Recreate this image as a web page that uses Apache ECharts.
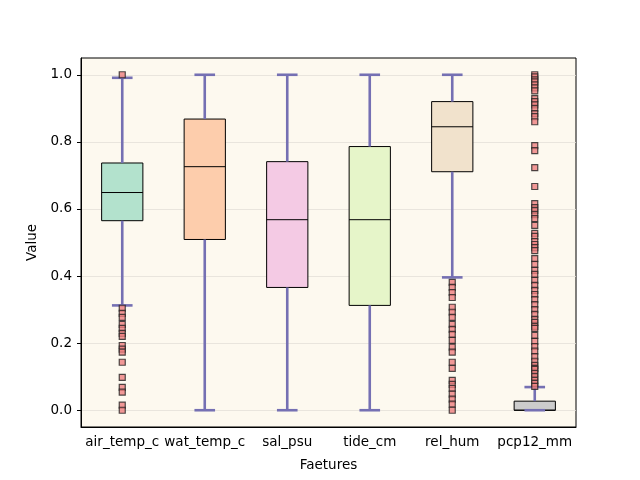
<!DOCTYPE html>
<html>
<head>
<meta charset="utf-8">
<script src="https://cdn.jsdelivr.net/npm/echarts@6/dist/echarts.min.js"></script>
<style>
  html, body { margin: 0; padding: 0; background: #fff; }
  #chart { width: 640px; height: 480px; }
</style>
</head>
<body>
<div id="chart"></div>
<script>
// box stats (normalised 0..1)
const categories = ['air_temp_c', 'wat_temp_c', 'sal_psu', 'tide_cm', 'rel_hum', 'pcp12_mm'];
const whiskerLow = [0.3125, 0, 0, 0, 0.396, 0];
const q1 = [0.565, 0.509, 0.366, 0.3125, 0.711, 0];
const median = [0.649, 0.726, 0.568, 0.568, 0.845, 0];
const q3 = [0.737, 0.868, 0.741, 0.786, 0.92, 0.027];
const whiskerHigh = [0.991, 1, 1, 1, 1, 0.069];

// outliers (only three columns have them)
const airTempOutliers = [1.0, 0.304, 0.289, 0.277, 0.256, 0.244, 0.229, 0.22, 0.193, 0.182, 0.173,
  0.143, 0.098, 0.068, 0.054, 0.015, 0.0];
const relHumOutliers = [0.381, 0.366, 0.351, 0.336, 0.307, 0.292, 0.277, 0.256, 0.241, 0.226, 0.208,
  0.188, 0.173, 0.143, 0.125, 0.089, 0.077, 0.065, 0.048, 0.033, 0.018, 0.0];
const pcpOutliers = [1.0, 0.994, 0.985, 0.979, 0.97, 0.961, 0.952, 0.929, 0.92, 0.91, 0.899, 0.884,
  0.875, 0.86, 0.789, 0.774, 0.723, 0.667, 0.616, 0.604, 0.595, 0.583, 0.571, 0.551, 0.527, 0.518,
  0.503, 0.494, 0.485, 0.476, 0.452, 0.435, 0.417, 0.405, 0.387, 0.372, 0.357, 0.345, 0.33, 0.315,
  0.3, 0.286, 0.271, 0.262, 0.25, 0.244, 0.223, 0.205, 0.19, 0.176, 0.16, 0.146, 0.134, 0.125,
  0.122, 0.11, 0.1, 0.089, 0.08, 0.071];

const yTicks = [0, 0.2, 0.4, 0.6, 0.8, 1.0];
const boxColors = ['#b3e2cd', '#fdcdac', '#f4cae4', '#e6f5c9', '#f1e2cc', '#cccccc'];

const whiskerColor = '#7570b3';
const font = 'DejaVu Sans';

const boxData = categories.map((c, i) => [i, whiskerLow[i], q1[i], median[i], q3[i], whiskerHigh[i]]);

const outlierData = [];
airTempOutliers.forEach(v => outlierData.push([0, v]));
relHumOutliers.forEach(v => outlierData.push([4, v]));
pcpOutliers.forEach(v => outlierData.push([5, v]));

function renderBox(params, api) {
  const i = api.value(0);
  const lo = api.coord([i, api.value(1)]);
  const b1 = api.coord([i, api.value(2)]);
  const md = api.coord([i, api.value(3)]);
  const b3 = api.coord([i, api.value(4)]);
  const hi = api.coord([i, api.value(5)]);
  const w = api.size([1, 0])[0] * 0.5;
  const x = lo[0];
  const wStyle = { stroke: whiskerColor, lineWidth: 2.6 };
  return {
    type: 'group',
    children: [
      {
        type: 'rect',
        shape: { x: x - w / 2, y: b3[1], width: w, height: b1[1] - b3[1] },
        style: { fill: boxColors[i], stroke: '#000', lineWidth: 1 }
      },
      {
        type: 'line',
        shape: { x1: x - w / 2, y1: md[1], x2: x + w / 2, y2: md[1] },
        style: { stroke: '#000', lineWidth: 1 }
      },
      // whiskers
      { type: 'line', shape: { x1: x, y1: b3[1], x2: x, y2: hi[1] }, style: wStyle },
      { type: 'line', shape: { x1: x, y1: b1[1], x2: x, y2: lo[1] }, style: wStyle },
      // caps, half the box width
      { type: 'line', shape: { x1: x - w / 4, y1: hi[1], x2: x + w / 4, y2: hi[1] }, style: wStyle },
      { type: 'line', shape: { x1: x - w / 4, y1: lo[1], x2: x + w / 4, y2: lo[1] }, style: wStyle }
    ]
  };
}

const option = {
  animation: false,
  textStyle: { fontFamily: font },
  grid: {
    left: 81,
    right: 64,
    top: 58,
    bottom: 53,
    show: true,
    backgroundColor: '#fdf9ef',
    borderColor: '#000',
    borderWidth: 1
  },
  xAxis: {
    type: 'category',
    data: categories,
    name: 'Faetures',
    nameLocation: 'middle',
    nameGap: 31,
    nameTextStyle: { color: '#000', fontSize: 13.5, fontFamily: font },
    axisLine: { onZero: false, lineStyle: { color: '#000', width: 1 } },
    axisTick: { alignWithLabel: true, length: 4, lineStyle: { color: '#000' } },
    axisLabel: { color: '#000', fontSize: 13.5, margin: 8, fontFamily: font, interval: 0 },
    splitLine: { show: false }
  },
  yAxis: {
    type: 'value',
    min: -0.05,
    max: 1.05,
    name: 'Value',
    nameLocation: 'middle',
    nameGap: 38,
    nameTextStyle: { color: '#000', fontSize: 13.5, fontFamily: font },
    axisLine: { show: true, lineStyle: { color: '#000', width: 1 } },
    axisTick: { show: true, length: 4, customValues: yTicks, lineStyle: { color: '#000' } },
    axisLabel: {
      color: '#000', fontSize: 13.5, margin: 9, fontFamily: font,
      customValues: yTicks,
      formatter: v => v.toFixed(1)
    },
    splitLine: { show: true, lineStyle: { color: '#e3e0d8', width: 0.8 } }
  },
  series: [
    {
      type: 'custom',
      renderItem: renderBox,
      data: boxData,
      encode: { x: 0, y: [1, 2, 3, 4, 5] },
      z: 2
    },
    {
      type: 'scatter',
      data: outlierData,
      symbol: 'rect',
      symbolSize: 6,
      itemStyle: { color: '#ee7f7f', borderColor: '#222', borderWidth: 1.2 },
      z: 3
    }
  ]
};

const chart = echarts.init(document.getElementById('chart'));
chart.setOption(option);
</script>
</body>
</html>
